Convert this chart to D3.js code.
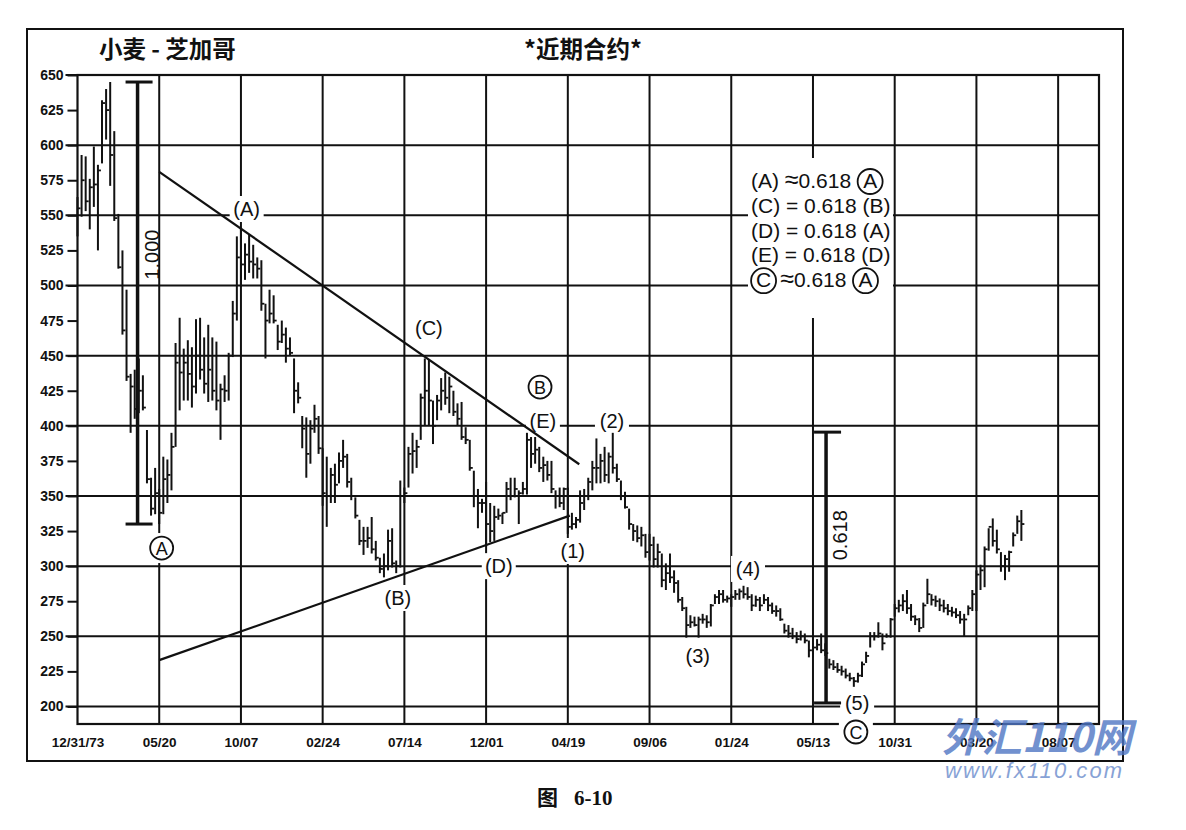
<!DOCTYPE html>
<html>
<head>
<meta charset="utf-8">
<script src="https://cdn.jsdelivr.net/npm/d3@7/dist/d3.min.js"></script>
<style>
  body { margin: 0; background: #fff; }
  svg text { font-family: "Liberation Sans", Arial, sans-serif; fill: #111; }
</style>
</head>
<body>
<svg id="chart" width="1186" height="830"></svg>
<script>
// weekly bars, week 0 = 12/31/73
const tickLabels = ["12/31/73", "05/20", "10/07", "02/24", "07/14", "12/01", "04/19", "09/06", "01/24", "05/13", "10/31", "03/20", "08/07"];
const priceTicks = [200, 225, 250, 275, 300, 325, 350, 375, 400, 425, 450, 475, 500, 525, 550, 575, 600, 625, 650];

const highs = [
  563, 593, 592, 576, 599, 586, 632, 640, 645, 610,
  551, 525, 497, 437, 440, 448, 436, 397, 363, 370,
  355, 378, 376, 395, 459, 477, 455, 461, 456, 476,
  477, 463, 472, 463, 460, 430, 436, 452, 489, 535,
  541, 530, 536, 529, 520, 518, 487, 497, 493, 472,
  475, 470, 463, 448, 431, 407, 406, 404, 415, 407,
  384, 378, 370, 373, 381, 390, 380, 363, 349, 333,
  328, 328, 335, 318, 306, 309, 326, 327, 304, 361,
  356, 385, 395, 390, 423, 448, 447, 418, 422, 434,
  438, 435, 425, 416, 417, 399, 390, 368, 355, 348,
  360, 345, 343, 341, 338, 360, 363, 363, 354, 360,
  395, 392, 392, 385, 378, 375, 375, 354, 356, 356,
  356, 338, 335, 354, 355, 363, 375, 391, 380, 385,
  381, 395, 373, 361, 353, 341, 330, 329, 328, 323,
  323, 321, 316, 309, 302, 309, 297, 290, 278, 271,
  265, 264, 264, 266, 265, 273, 280, 283, 283, 279,
  280, 283, 284, 286, 285, 280, 279, 278, 280, 278,
  274, 272, 270, 259, 258, 256, 253, 254, 252, 247,
  245, 248, 252, 245, 234, 233, 231, 229, 227, 224,
  221, 224, 232, 239, 253, 253, 260, 252, 252, 263,
  273, 276, 280, 283, 273, 265, 263, 274, 291, 280,
  279, 277, 276, 273, 271, 270, 268, 266, 272, 283,
  297, 301, 314, 327, 334, 326, 310, 308, 311, 324,
  336, 340
];
const lows = [
  535, 549, 553, 540, 556, 525, 587, 604, 571, 546,
  512, 465, 432, 395, 405, 409, 411, 359, 336, 337,
  330, 337, 345, 354, 385, 411, 418, 418, 413, 423,
  433, 423, 417, 418, 411, 390, 417, 418, 449, 475,
  499, 504, 509, 505, 505, 482, 448, 473, 473, 454,
  459, 445, 450, 409, 416, 384, 363, 373, 395, 380,
  343, 328, 345, 345, 359, 370, 356, 347, 334, 315,
  308, 313, 309, 304, 295, 292, 297, 299, 295, 299,
  345, 356, 366, 370, 390, 400, 400, 387, 404, 411,
  415, 409, 407, 400, 390, 387, 368, 342, 327, 338,
  314, 317, 318, 333, 330, 338, 347, 349, 330, 351,
  351, 370, 373, 367, 360, 361, 352, 341, 342, 340,
  323, 326, 327, 331, 340, 347, 354, 359, 359, 360,
  359, 366, 360, 347, 341, 326, 318, 317, 314, 306,
  304, 299, 299, 285, 283, 288, 281, 274, 268, 249,
  256, 257, 249, 259, 256, 257, 273, 273, 274, 274,
  271, 276, 276, 277, 276, 268, 271, 268, 273, 268,
  266, 264, 261, 252, 249, 248, 245, 247, 245, 235,
  235, 240, 238, 236, 227, 226, 224, 222, 220, 218,
  214, 217, 221, 231, 242, 247, 249, 240, 249, 249,
  264, 267, 268, 266, 261, 258, 253, 256, 273, 272,
  271, 268, 267, 265, 264, 263, 259, 250, 265, 268,
  268, 283, 285, 311, 314, 309, 296, 290, 296, 314,
  323, 318
];
const closes = [
  555, 575, 560, 570, 572, 582, 630, 625, 593, 548,
  513, 468, 435, 428, 412, 425, 413, 362, 341, 352,
  338, 362, 365, 385, 445, 438, 445, 437, 428, 450,
  440, 430, 440, 425, 418, 426, 425, 450, 480, 520,
  515, 522, 517, 515, 512, 487, 475, 480, 475, 460,
  465, 455, 452, 425, 420, 398, 380, 398, 405, 384,
  352, 350, 365, 358, 375, 378, 360, 350, 336, 318,
  318, 320, 312, 306, 298, 300, 318, 302, 300, 350,
  352, 380, 382, 385, 420, 425, 418, 400, 418, 425,
  420, 428, 410, 405, 392, 390, 370, 350, 345, 345,
  330, 325, 335, 336, 338, 355, 350, 355, 352, 355,
  390, 380, 383, 370, 372, 365, 355, 350, 345, 355,
  328, 330, 333, 345, 350, 360, 370, 370, 375, 365,
  378, 370, 362, 350, 342, 330, 325, 320, 322, 310,
  315, 305, 310, 290, 295, 292, 288, 276, 270, 258,
  260, 258, 262, 262, 260, 272, 278, 280, 276, 277,
  278, 280, 282, 280, 278, 272, 276, 272, 276, 272,
  268, 268, 262, 254, 252, 250, 248, 250, 247, 240,
  242, 244, 240, 238, 230, 228, 226, 225, 222, 220,
  218, 222, 230, 236, 250, 250, 252, 245, 250, 262,
  270, 272, 275, 270, 264, 262, 256, 272, 280, 276,
  275, 272, 270, 268, 267, 265, 262, 262, 270, 280,
  294, 297, 312, 328, 318, 312, 300, 305, 310, 322,
  332, 330
];

// trend lines (week, price)
const upperLine = [[20, 581], [122.8, 372.6]];
const lowerLine = [[20, 233], [120.5, 336]];

// measured swings
const measures = [
  { week: 14.7, top: 645, bottom: 330, label: "1.000", labelPrice: 522 },
  { week: 183.2, top: 395.5, bottom: 202.5, label: "0.618", labelPrice: 322 }
];

// wave labels (circled = true draws a ring)
const waveLabels = [
  { text: "(A)", week: 41.4, price: 554.5 },
  { text: "(C)", week: 86, price: 469.7 },
  { text: "B", week: 113.2, price: 427.6, circled: true },
  { text: "(E)", week: 113.9, price: 403.4 },
  { text: "(2)", week: 130.8, price: 403.4 },
  { text: "(1)", week: 121.2, price: 310.8 },
  { text: "(D)", week: 103.1, price: 300 },
  { text: "(B)", week: 78.4, price: 277.3 },
  { text: "A", week: 20.6, price: 312.9, circled: true },
  { text: "(3)", week: 151.8, price: 236 },
  { text: "(4)", week: 164.1, price: 298 },
  { text: "(5)", week: 190.8, price: 202.4 },
  { text: "C", week: 190.5, price: 181.8, circled: true }
];

// ratio notes: "@X" = circled letter, "~" = approx sign
const ratioNotes = [
  ["(A) ", "~", "0.618", "@A"],
  ["(C) = 0.618 (B)"],
  ["(D) = 0.618 (A)"],
  ["(E) = 0.618 (D)"],
  ["@C", "~", "0.618", "@A"]
];

const svg = d3.select("#chart");
const margin = { top: 75, right: 87, bottom: 106, left: 77.5 };
const width = +svg.attr("width");
const height = +svg.attr("height");
const innerWidth = width - margin.left - margin.right;
const innerHeight = height - margin.top - margin.bottom;

const x = d3.scaleLinear().domain([0, 250]).range([0, innerWidth]);
const y = d3.scaleLinear().domain([187.5, 650]).range([innerHeight, 0]);

// outer frame
svg.append("rect")
  .attr("x", 27).attr("y", 29).attr("width", 1096).attr("height", 732)
  .attr("fill", "none").attr("stroke", "#111").attr("stroke-width", 2);

svg.append("text").attr("x", 99).attr("y", 58)
  .style("font-family", "'Noto Sans CJK SC', sans-serif").style("font-weight", "bold").style("font-size", "23.5px")
  .text("小麦 - 芝加哥");
svg.append("text").attr("x", 524).attr("y", 58)
  .style("font-family", "'Noto Sans CJK SC', sans-serif").style("font-weight", "bold").style("font-size", "23.5px")
  .text("*近期合约*");

const g = svg.append("g").attr("transform", `translate(${margin.left},${margin.top})`);

const tickWeeks = tickLabels.map((d, i) => i * 20);

// grid
g.selectAll(".hgrid").data(priceTicks.filter(d => d % 50 === 0)).enter().append("line")
  .attr("x1", -12).attr("x2", innerWidth)
  .attr("y1", d => y(d)).attr("y2", d => y(d))
  .attr("stroke", "#111").attr("stroke-width", 2);
g.selectAll(".vgrid").data(tickWeeks.slice(1)).enter().append("line")
  .attr("x1", d => x(d)).attr("x2", d => x(d))
  .attr("y1", 0).attr("y2", innerHeight)
  .attr("stroke", "#111").attr("stroke-width", 2);
g.append("rect").attr("x", 0).attr("y", 0).attr("width", innerWidth).attr("height", innerHeight)
  .attr("fill", "none").attr("stroke", "#111").attr("stroke-width", 2.2);

const yAxis = d3.axisLeft(y).tickValues(priceTicks).tickSize(10).tickFormat(d3.format("d"));
const yg = g.append("g").call(yAxis);
yg.select(".domain").remove();
yg.selectAll("line").attr("stroke", "#111").attr("stroke-width", 2);
yg.selectAll("text").attr("x", -14).style("font-size", "14px").style("font-weight", "bold");

const xAxis = d3.axisBottom(x).tickValues(tickWeeks).tickSize(0).tickFormat((d, i) => tickLabels[i]);
const xg = g.append("g").attr("transform", `translate(0,${innerHeight})`).call(xAxis);
xg.select(".domain").remove();
xg.selectAll("text").attr("y", 13).style("font-size", "13.5px").style("font-weight", "bold");

// ratio notes box
const notes = svg.append("g");
notes.append("rect").attr("x", 748).attr("y", 158).attr("width", 145).attr("height", 160).attr("fill", "#fff");

// white knockouts behind labels
const labelG = g.append("g");
waveLabels.forEach(d => {
  const cx = x(d.week), cy = y(d.price);
  if (d.circled) {
    labelG.append("rect").attr("x", cx - 17).attr("y", cy - 15).attr("width", 34).attr("height", 30).attr("fill", "#fff");
  } else {
    labelG.append("rect").attr("x", cx - 17).attr("y", cy - 13).attr("width", 34).attr("height", 26).attr("fill", "#fff");
  }
});

// trend lines
const line = d3.line().x(d => x(d[0])).y(d => y(d[1]));
[upperLine, lowerLine].forEach(l => {
  g.append("path").attr("d", line(l)).attr("fill", "none").attr("stroke", "#111").attr("stroke-width", 2.2);
});

// price bars
const bars = g.append("g");
highs.forEach((h, i) => {
  bars.append("line")
    .attr("x1", x(i)).attr("x2", x(i))
    .attr("y1", y(h)).attr("y2", y(lows[i]))
    .attr("stroke", "#111").attr("stroke-width", 2);
  bars.append("line")
    .attr("x1", x(i)).attr("x2", x(i) + 3)
    .attr("y1", y(closes[i])).attr("y2", y(closes[i]))
    .attr("stroke", "#111").attr("stroke-width", 1.8);
});

// measurement bars
measures.forEach(m => {
  const mx = x(m.week);
  g.append("line").attr("x1", mx).attr("x2", mx).attr("y1", y(m.top)).attr("y2", y(m.bottom))
    .attr("stroke", "#111").attr("stroke-width", 3.5);
  [m.top, m.bottom].forEach(p => {
    g.append("line").attr("x1", mx - 12).attr("x2", mx + 15).attr("y1", y(p)).attr("y2", y(p))
      .attr("stroke", "#111").attr("stroke-width", 3);
  });
  g.append("text")
    .attr("transform", `translate(${mx + 21},${y(m.labelPrice)}) rotate(-90)`)
    .attr("text-anchor", "middle")
    .style("font-size", "20px")
    .text(m.label);
});

// wave labels
waveLabels.forEach(d => {
  const cx = x(d.week), cy = y(d.price);
  if (d.circled) {
    labelG.append("circle").attr("cx", cx).attr("cy", cy).attr("r", 11.5)
      .attr("fill", "#fff").attr("stroke", "#111").attr("stroke-width", 1.8);
  }
  labelG.append("text").attr("x", cx).attr("y", cy + 7)
    .attr("text-anchor", "middle")
    .style("font-size", d.circled ? "18px" : "20px")
    .text(d.text);
});

// ratio notes text
ratioNotes.forEach((parts, li) => {
  const t = notes.append("text").attr("x", 751).attr("y", 188 + li * 24.8)
    .style("font-size", "21px").style("white-space", "pre");
  const rings = [];
  let idx = 0;
  parts.forEach((p, pi) => {
    const prevRing = pi > 0 && parts[pi - 1].startsWith("@");
    if (p.startsWith("@")) {
      t.append("tspan").attr("dx", pi === 0 ? 5 : 12).text(p.slice(1));
      rings.push(idx);
      idx += 1;
    } else if (p === "~") {
      t.append("tspan").attr("dx", prevRing ? 9 : 0).style("font-size", "25px").text("\u2248");
      idx += 1;
    } else {
      t.append("tspan").text(p);
      idx += p.length;
    }
  });
  rings.forEach(ci => {
    const ext = t.node().getExtentOfChar(ci);
    notes.append("circle")
      .attr("cx", ext.x + ext.width / 2).attr("cy", ext.y + ext.height / 2 + 1)
      .attr("r", 12.5).attr("fill", "none").attr("stroke", "#111").attr("stroke-width", 1.8);
  });
});

// figure caption
const capStyle = s => s.style("font-family", "'Liberation Serif', 'Noto Sans CJK SC', serif")
  .style("font-weight", "bold").style("font-size", "21px");
svg.append("text").attr("x", 537).attr("y", 805).call(capStyle).text("图");
svg.append("text").attr("x", 574).attr("y", 805).call(capStyle).text("6-10");

// watermark
const wm = svg.append("g").attr("opacity", 0.8);
wm.append("text").attr("x", 942).attr("y", 752).attr("textLength", 190)
  .style("font-family", "'Noto Sans CJK SC', sans-serif").style("font-weight", "bold").style("font-style", "italic")
  .style("font-size", "40px").style("fill", "#4f76c4").text("外汇110网");
wm.append("text").attr("x", 945).attr("y", 778).attr("textLength", 177)
  .style("font-style", "italic").style("font-size", "22px").style("fill", "#6a8bcc").text("www.fx110.com");
</script>
</body>
</html>
